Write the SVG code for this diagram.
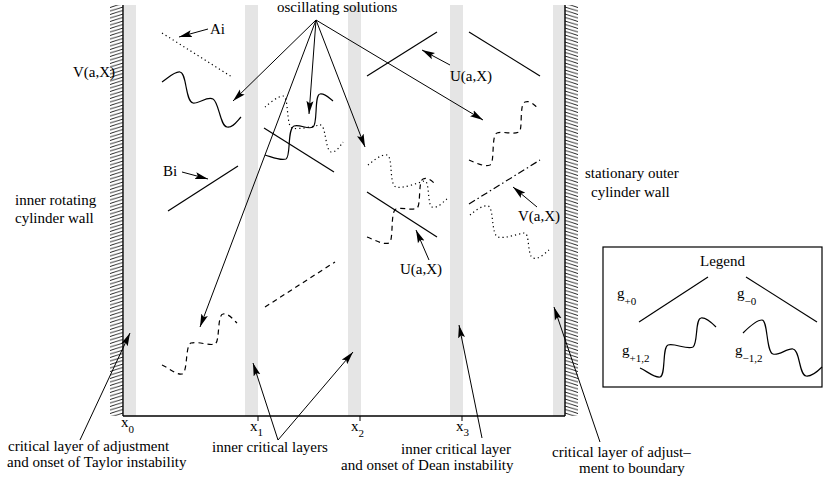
<svg xmlns="http://www.w3.org/2000/svg" width="829" height="485" viewBox="0 0 829 485">
<style>
.t{font-family:"Liberation Serif","Times New Roman",serif;font-size:15px;fill:#000}
.s{font-size:11px}
.ln{fill:none;stroke:#000;stroke-width:1.2}
.dash{stroke-dasharray:5 4}
.dot{stroke-dasharray:1.2 3}
.dd{stroke-dasharray:7 3 1.5 3}
.ar{fill:none;stroke:#000;stroke-width:1;marker-end:url(#ah)}
.gray{fill:#e5e5e5}
.wall{fill:none;stroke:#000;stroke-width:1.4}
</style>
<defs>
<marker id="ah" markerUnits="userSpaceOnUse" markerWidth="14" markerHeight="8" refX="13" refY="4" orient="auto">
<path d="M0,0.5 L13,4 L0,7.5 L2.5,4 z" fill="#000"/>
</marker>
<pattern id="hl" patternUnits="userSpaceOnUse" x="110" y="0" width="13" height="3.5">
<path d="M0,4 L13,0 M0,0.5 L13,-3.5 M0,7.5 L13,3.5" stroke="#000" stroke-width="0.85"/>
</pattern>
<pattern id="hr" patternUnits="userSpaceOnUse" x="565" y="0" width="13" height="3.5">
<path d="M0,0 L13,4 M0,-3.5 L13,0.5 M0,3.5 L13,7.5" stroke="#000" stroke-width="0.85"/>
</pattern>
</defs>
<rect width="829" height="485" fill="#fff"/>

<g id="layers">
<rect class="gray" x="124" y="5" width="12" height="411"/>
<rect class="gray" x="245" y="5" width="13" height="411"/>
<rect class="gray" x="348" y="5" width="13" height="411"/>
<rect class="gray" x="450" y="5" width="13" height="411"/>
<rect class="gray" x="553" y="5" width="12" height="411"/>
</g>

<g id="inner-wall">
<rect x="110" y="5" width="13" height="411" fill="url(#hl)"/>
<line class="wall" x1="123" y1="5" x2="123" y2="416"/>
</g>
<g id="outer-wall">
<rect x="565" y="5" width="13" height="411" fill="url(#hr)"/>
<line class="wall" x1="565" y1="5" x2="565" y2="416"/>
</g>
<g id="axis">
<line class="wall" x1="123" y1="416" x2="565" y2="416"/>
<path d="M258,416 V421 M360,416 V421 M462,416 V421" stroke="#000" stroke-width="1"/>
<text class="t" x="121" y="427">x<tspan class="s" dy="6">0</tspan></text>
<text class="t" x="250" y="431">x<tspan class="s" dy="5">1</tspan></text>
<text class="t" x="351" y="431">x<tspan class="s" dy="6">2</tspan></text>
<text class="t" x="456" y="431">x<tspan class="s" dy="5">3</tspan></text>
</g>

<g id="solutions-zone0">
<line class="ln dot" x1="162" y1="33" x2="232" y2="77"/>
<path class="ln" d="M162,82 C168,78 175,71 180,72 C187,73 185,101 193,103 C199,104 207,96 213,99 C219,102 220,126 227,127 C233,128 237,121 241,117"/>
<line class="ln" x1="168" y1="211" x2="238" y2="166"/>
<path class="ln dash" d="M162,365 C169,368 176,375 182,374 C188,373 185,345 191,343 C198,341 209,346 215,344 C220,342 217,315 223,314 C228,313 233,319 237,323"/>
</g>

<g id="solutions-zone1">
<path class="ln dot" d="M265,107 C270,103 278,96 283,96 C289,96 286,126 292,128 C299,130 314,126 320,125 C326,124 325,150 331,152 C336,153 340,146 343,142"/>
<path class="ln" d="M265,155 C272,157 280,161 286,159 C291,157 287,129 294,126 C300,124 308,130 313,127 C318,124 314,95 320,94 C325,93 329,98 333,101"/>
<line class="ln" x1="264" y1="128" x2="334" y2="172"/>
<line class="ln dash" x1="265" y1="307" x2="335" y2="262"/>
</g>

<g id="solutions-zone2">
<line class="ln" x1="367" y1="76" x2="437" y2="32"/>
<path class="ln dot" d="M368,165 C373,161 381,154 387,155 C393,156 389,185 396,187 C402,189 418,183 424,181 C430,179 427,205 432,207 C437,209 443,202 447,199"/>
<path class="ln dash" d="M367,237 C375,240 383,245 389,243 C394,241 390,211 396,209 C403,207 412,211 417,208 C421,206 418,181 423,179 C428,177 432,181 435,184"/>
<line class="ln" x1="367" y1="192" x2="437" y2="237"/>
</g>

<g id="solutions-zone3">
<line class="ln" x1="469" y1="32" x2="540" y2="76"/>
<path class="ln dash" d="M469,160 C476,163 484,167 490,165 C495,163 491,135 497,133 C504,131 513,135 519,132 C523,130 519,104 525,102 C530,100 534,105 538,108"/>
<line class="ln dd" x1="469" y1="204" x2="540" y2="160"/>
<path class="ln dot" d="M470,215 C475,211 482,205 488,206 C494,207 491,235 498,237 C505,239 517,234 524,233 C530,232 527,256 533,258 C539,260 545,253 549,250"/>
</g>

<g id="labels">
<text class="t" x="277" y="12">oscillating solutions</text>
<text class="t" x="210" y="34">Ai</text>
<text class="t" x="163" y="176">Bi</text>
<text class="t" x="73" y="77">V(a,X)</text>
<text class="t" x="450" y="81">U(a,X)</text>
<text class="t" x="400" y="274">U(a,X)</text>
<text class="t" x="518" y="221">V(a,X)</text>
<text class="t" x="15" y="205">inner rotating</text>
<text class="t" x="15" y="223">cylinder wall</text>
<text class="t" x="585" y="178">stationary outer</text>
<text class="t" x="591" y="197">cylinder wall</text>
<text class="t" x="8" y="451">critical layer of adjustment</text>
<text class="t" x="7" y="467">and onset of Taylor instability</text>
<text class="t" x="212" y="452">inner critical layers</text>
<text class="t" x="401" y="454">inner critical layer</text>
<text class="t" x="341" y="470">and onset of Dean instability</text>
<text class="t" x="552" y="457">critical layer of adjust–</text>
<text class="t" x="579" y="473">ment to boundary</text>
</g>

<g id="legend">
<rect x="603" y="247" width="219" height="140" fill="none" stroke="#000" stroke-width="1.2"/>
<text class="t" x="700" y="266">Legend</text>
<text class="t" x="617" y="298">g<tspan class="s" dy="7">+0</tspan></text>
<text class="t" x="737" y="298">g<tspan class="s" dy="7">−0</tspan></text>
<text class="t" x="622" y="355">g<tspan class="s" dy="7">+1,2</tspan></text>
<text class="t" x="735" y="355">g<tspan class="s" dy="7">−1,2</tspan></text>
<line class="ln" x1="639" y1="322" x2="708" y2="277"/>
<line class="ln" x1="746" y1="277" x2="817" y2="322"/>
<path class="ln" d="M640,368 C647,371 654,378 660,377 C666,376 662,347 668,345 C675,343 687,350 693,347 C698,344 695,319 701,318 C706,317 712,323 716,327"/>
<path class="ln" d="M743,333 C748,328 756,320 762,320 C768,320 766,352 773,354 C779,356 787,348 793,349 C800,350 799,375 806,376 C812,377 818,371 822,367"/>
</g>

<g id="connectors">
<line class="ar" x1="316" y1="20" x2="233" y2="101"/>
<line class="ar" x1="316" y1="20" x2="309" y2="114"/>
<line class="ar" x1="316" y1="20" x2="365" y2="147"/>
<line class="ar" x1="316" y1="20" x2="483" y2="120"/>
<line class="ar" x1="316" y1="20" x2="200" y2="327"/>
<line class="ar" x1="208" y1="29" x2="179" y2="37"/>
<line class="ar" x1="182" y1="172" x2="208" y2="179"/>
<line class="ar" x1="450" y1="65" x2="422" y2="50"/>
<line class="ar" x1="429" y1="260" x2="416" y2="230"/>
<line class="ar" x1="537" y1="207" x2="513" y2="187"/>
<line class="ar" x1="80" y1="440" x2="130" y2="333"/>
<line class="ar" x1="278" y1="440" x2="253" y2="363"/>
<line class="ar" x1="278" y1="440" x2="353" y2="352"/>
<line class="ar" x1="482" y1="438" x2="459" y2="325"/>
<line class="ar" x1="600" y1="442" x2="554" y2="307"/>
</g>
</svg>
